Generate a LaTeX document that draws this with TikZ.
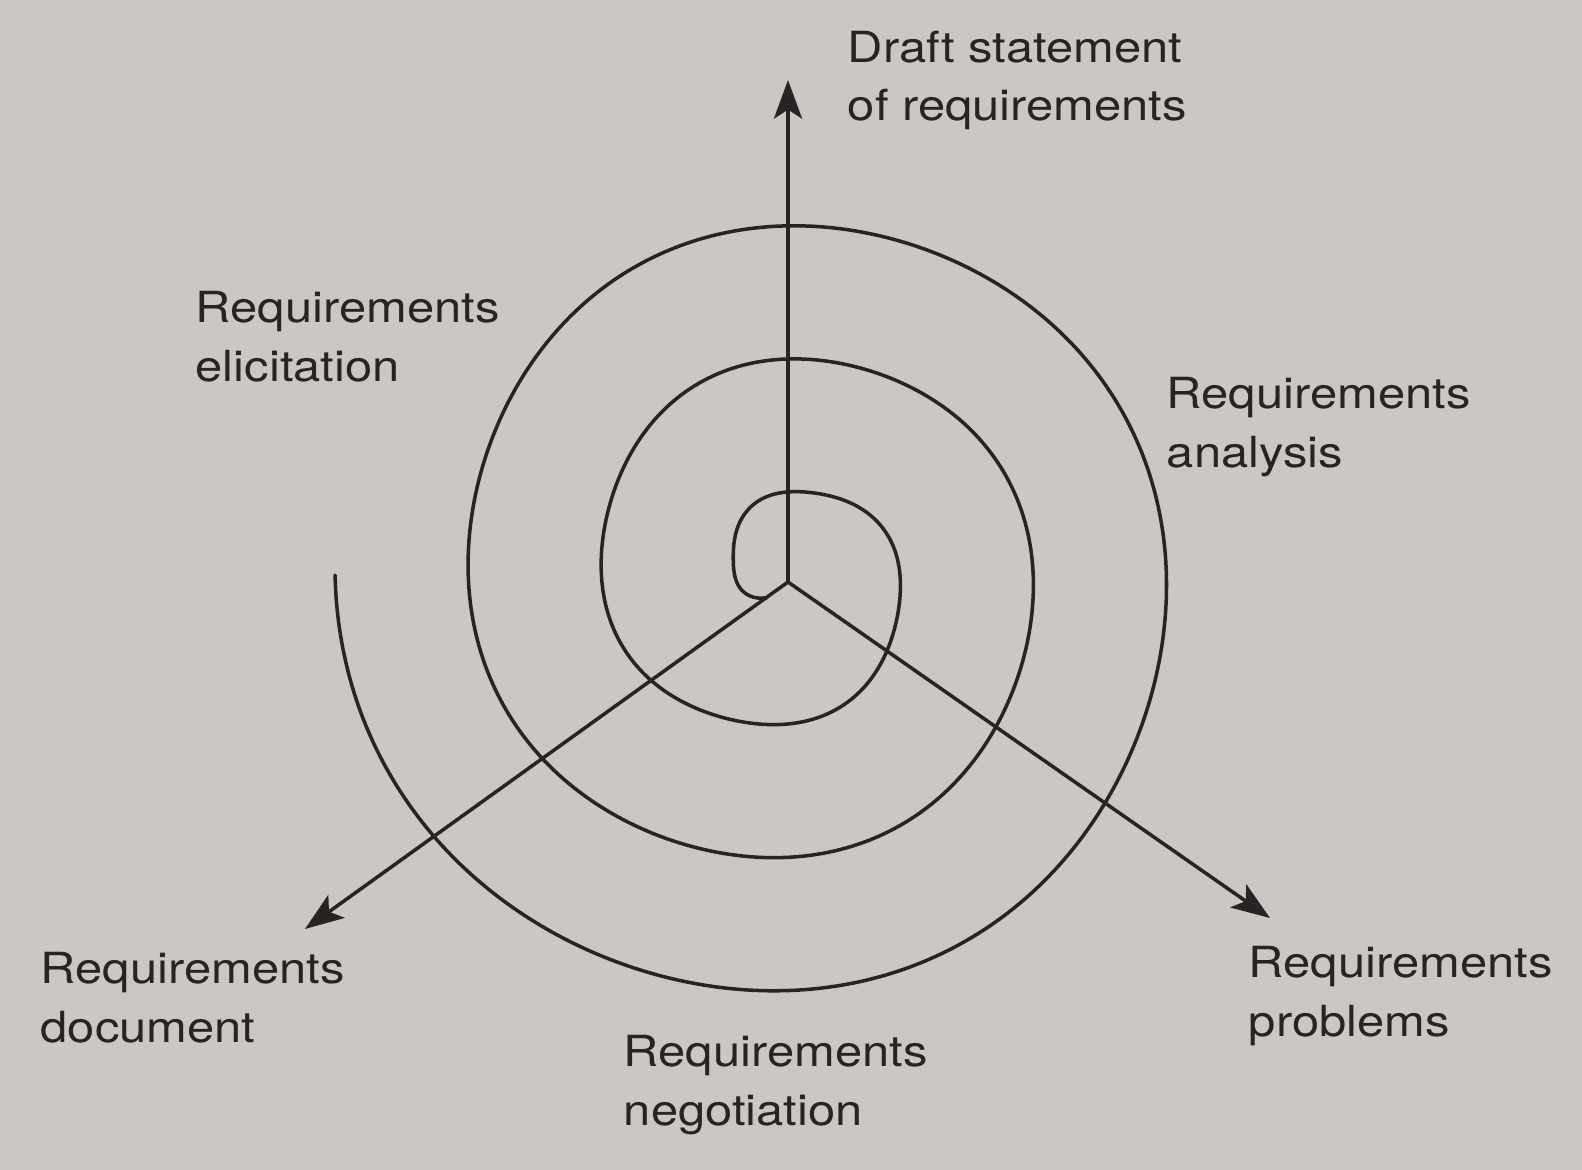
\documentclass[tikz,border=0pt]{standalone}
\usepackage{fontspec}
\setmainfont{TeX Gyre Heros}
\usetikzlibrary{arrows.meta}
\definecolor{paper}{RGB}{203,200,196}
\definecolor{ink}{RGB}{38,36,36}
\begin{document}
\begin{tikzpicture}[x=0.01cm,y=-0.01cm,
  axis/.style={draw=ink,line width=1pt,-{Stealth[length=11pt,width=8pt,inset=2.6pt]}},
  spiralline/.style={draw=ink,line width=1pt,line cap=round},
  lbl/.style={text=ink,font=\fontsize{12.2pt}{16.5pt}\selectfont,align=left,
    anchor=base west,inner sep=0pt,xscale=1.14}]
  % page
  \fill[paper] (0,0) rectangle (1582,1170);
  \useasboundingbox (0,0) rectangle (1582,1170);

  % centre of the three axes and their tips
  \coordinate (O) at (788,582);
  \coordinate (tipUp) at (788,80);
  \coordinate (tipLeft) at (305,929);
  \coordinate (tipRight) at (1270,918);

  % spiral turning clockwise from the inner end outwards; a small ripple
  % in the growth keeps each loop's extremes near the lines through the centre
  \draw[spiralline] plot[smooth,domain=-233:900,samples=360,variable=\s]
    ({784+(116+0.37*\s-2.8*sin(4*\s))*cos(\s)},
     {575+(116+0.37*\s-2.8*sin(4*\s))*sin(\s)});

  % axes
  \draw[axis] (O) -- (tipUp);
  \draw[axis] (O) -- (tipLeft);
  \draw[axis] (O) -- (tipRight);

  % labels (anchored at the baseline of their last line)
  \node[lbl] (draft) at (847,121) {Draft statement\\of requirements};
  \node[lbl] (elic) at (195,381) {Requirements\\elicitation};
  \node[lbl] (anal) at (1166,467) {Requirements\\analysis};
  \node[lbl] (prob) at (1248,1036) {Requirements\\problems};
  \node[lbl] (doc) at (40,1042) {Requirements\\document};
  \node[lbl] (nego) at (623,1125) {Requirements\\negotiation};
\end{tikzpicture}
\end{document}
